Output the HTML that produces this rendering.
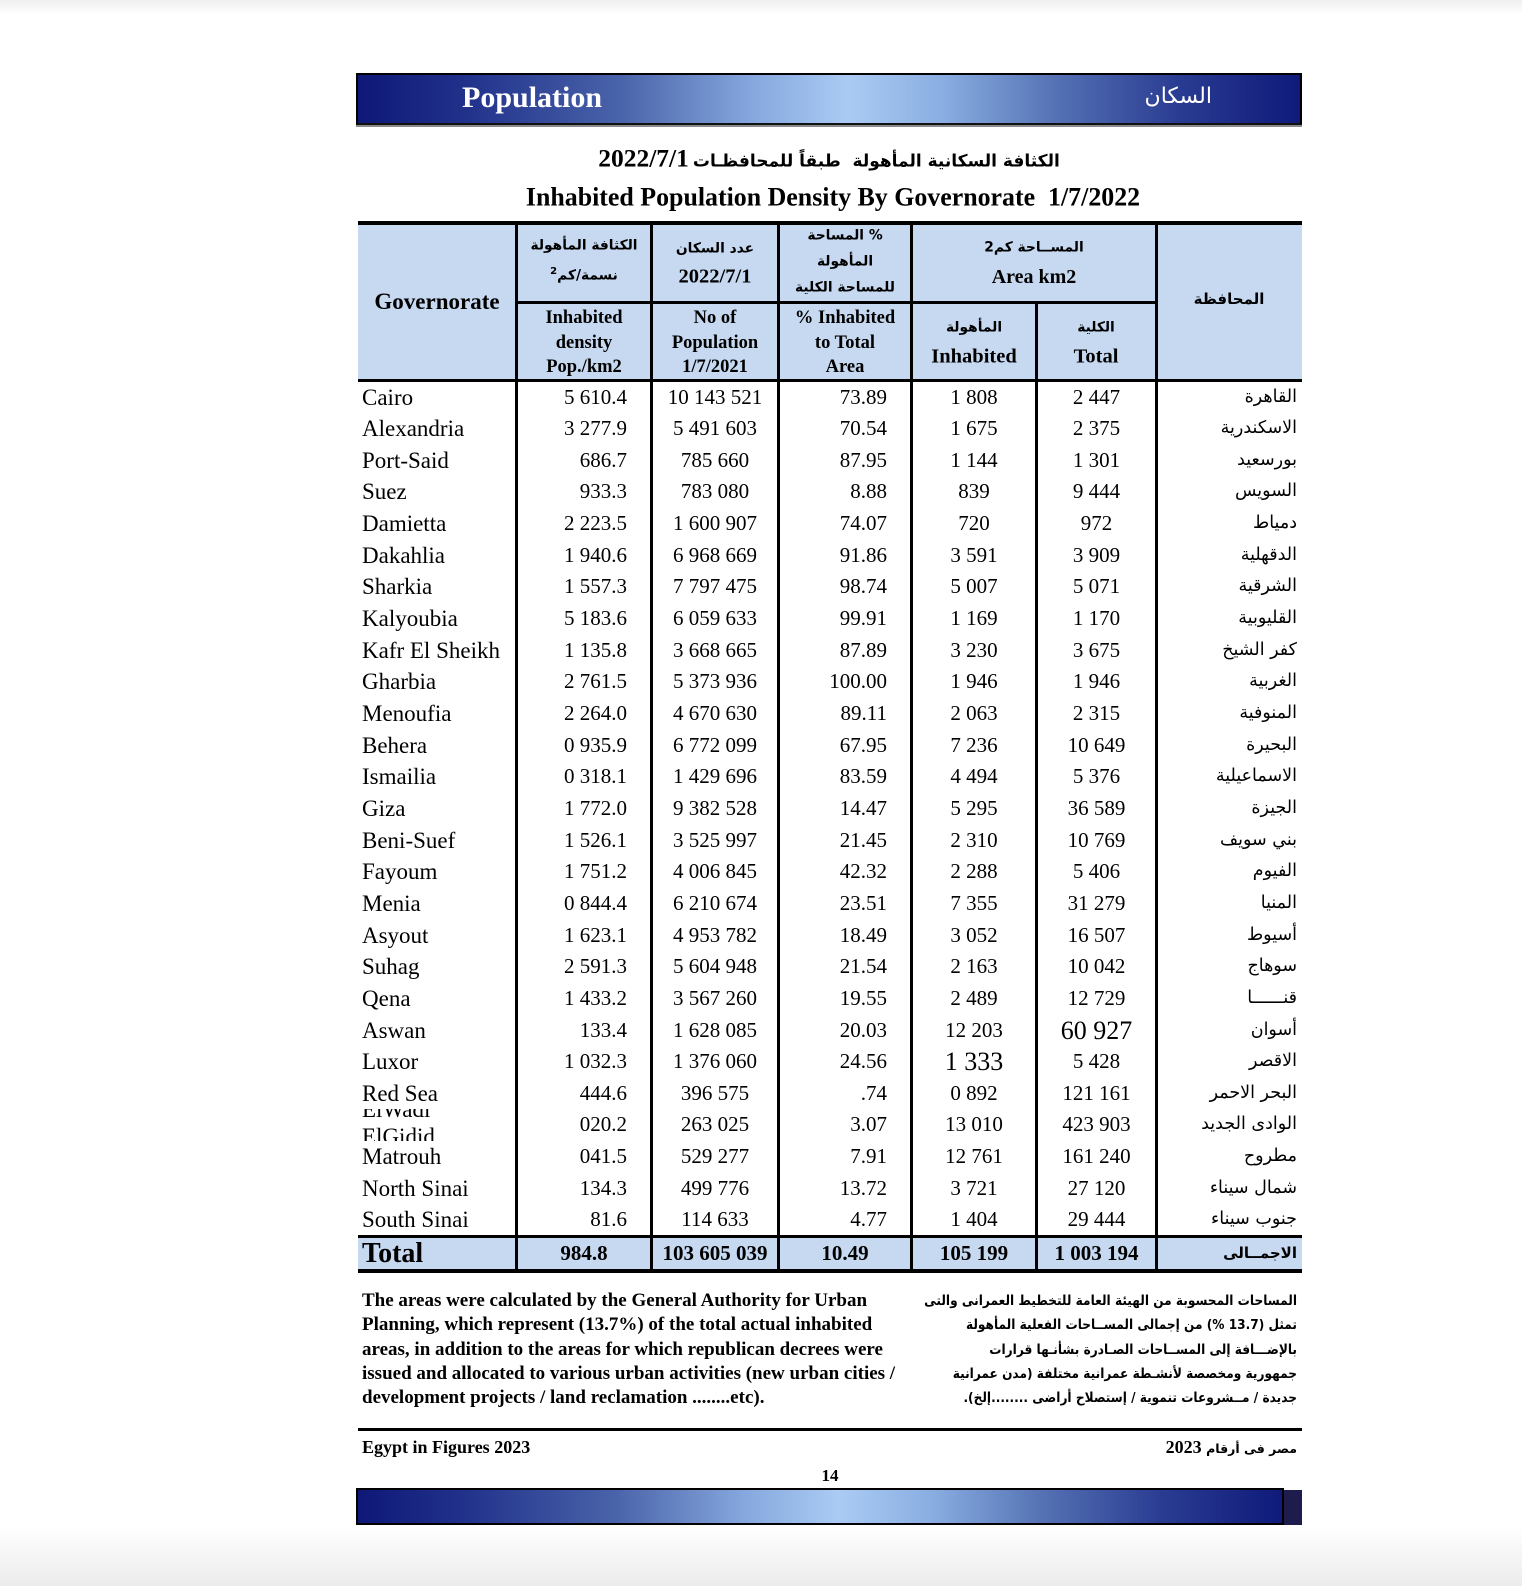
<!DOCTYPE html>
<html><head><meta charset="utf-8">
<style>
*{margin:0;padding:0;box-sizing:border-box}
html,body{width:1522px;height:1586px;background:#fff;overflow:hidden}
body{position:relative;font-family:"Liberation Serif","DejaVu Sans",serif;color:#000}
.abs{position:absolute}
.topfade{left:0;top:0;width:1522px;height:14px;background:linear-gradient(#efefef,#fff)}
.botfade{left:0;top:1525px;width:1522px;height:61px;background:linear-gradient(#fff,#ececec)}
.banner{left:356px;top:73px;width:946px;height:52px;border:2px solid #000;border-bottom:2px solid #111;
 background:linear-gradient(90deg,#0e1877 0%,#22338c 12%,#4a64aa 28%,#86a8de 42%,#aacbf3 52%,#8aaee2 62%,#5572b4 74%,#2a3c92 87%,#0f1a7a 100%);
 box-shadow:0 2px 0 #8a8a8a}
.bt{color:#fff;white-space:nowrap}
.ar{font-family:"DejaVu Sans",sans-serif;direction:rtl}
.t{position:absolute;white-space:nowrap;transform:translate(-50%,-50%);line-height:1.2;text-align:center}
.hfill{left:358px;top:225px;width:944px;height:154px;background:#c6d9f0}
.tfill{left:358px;top:1238px;width:944px;height:31px;background:#c6d9f0}
.hl{position:absolute;background:#000}
.vl{position:absolute;background:#000;width:3px}
.hb{font-weight:bold;font-size:18.5px}
.ha{font-family:"DejaVu Sans",sans-serif;font-weight:bold;font-size:13.8px;direction:rtl}
.row{position:absolute;left:0;width:1522px;height:31.65px;line-height:31.65px;white-space:nowrap}
.row span{position:absolute;top:0;height:31.65px}
.n{left:362px;font-size:23px}
.c1{left:518px;width:109px;text-align:right;font-size:21px}
.c2{left:653px;width:124px;text-align:center;font-size:21px}
.c3{left:780px;width:107px;text-align:right;font-size:21px}
.c4{left:913px;width:122px;text-align:center;font-size:21px}
.c5{left:1038px;width:117px;text-align:center;font-size:21px}
.a{left:1158px;width:139px;text-align:right;font-family:"DejaVu Sans",sans-serif;font-size:17.5px;direction:rtl}
.big{font-size:26px!important}
.tot span{font-weight:bold}
.tot .c1,.tot .c3{text-align:center}
.tot .c1{left:518px;width:132px}
.tot .c3{left:780px;width:130px}
.note{font-weight:bold;font-size:19px;line-height:24.3px;white-space:nowrap}
.notear{font-family:"DejaVu Sans",sans-serif;font-weight:bold;font-size:13.5px;line-height:24.3px;direction:rtl;text-align:right;white-space:nowrap;transform:scaleX(0.9);transform-origin:right top}
</style></head><body>
<div class="abs topfade"></div>
<div class="abs botfade"></div>

<!-- top banner -->
<div class="abs banner"></div>
<div class="abs bt" style="left:462px;top:80px;font-size:30px;font-weight:bold;line-height:36px">Population</div>
<div class="abs bt ar" style="left:1130px;top:81px;width:82px;font-size:22px;line-height:32px;text-align:right">السكان</div>

<!-- titles -->
<div class="t" style="left:829px;top:159px;font-weight:bold"><span class="ar" style="font-size:17px">الكثافة السكانية المأهولة&nbsp; طبقاً للمحافظـات</span> <span style="font-size:25.5px">2022/7/1</span></div>
<div class="t" style="left:833px;top:197px;font-weight:bold;font-size:25.9px">Inhabited Population Density By Governorate&nbsp; 1/7/2022</div>

<!-- table fills -->
<div class="abs hfill"></div>
<div class="abs tfill"></div>

<!-- horizontal lines -->
<div class="hl" style="left:358px;top:221px;width:944px;height:4px"></div>
<div class="hl" style="left:515px;top:301px;width:643px;height:3px"></div>
<div class="hl" style="left:358px;top:379px;width:944px;height:3px"></div>
<div class="hl" style="left:358px;top:1235px;width:944px;height:3px"></div>
<div class="hl" style="left:358px;top:1269px;width:944px;height:4px"></div>

<!-- vertical lines -->
<div class="vl" style="left:515px;top:222px;height:1050px"></div>
<div class="vl" style="left:650px;top:222px;height:1050px"></div>
<div class="vl" style="left:777px;top:222px;height:1050px"></div>
<div class="vl" style="left:910px;top:222px;height:1050px"></div>
<div class="vl" style="left:1035px;top:302px;height:970px"></div>
<div class="vl" style="left:1155px;top:222px;height:1050px"></div>

<!-- header text -->
<div class="t" style="left:437px;top:302px;font-weight:bold;font-size:23px">Governorate</div>
<div class="t ar" style="left:1229px;top:299px;font-weight:bold;font-size:15px">المحافظة</div>

<div class="t ha" style="left:584px;top:246px">الكثافة المأهولة</div>
<div class="t ha" style="left:584px;top:275px">نسمة/كم<sup style="font-size:10px">2</sup></div>
<div class="t hb" style="left:584px;top:318px">Inhabited</div>
<div class="t hb" style="left:584px;top:343px">density</div>
<div class="t hb" style="left:584px;top:367px">Pop./km2</div>

<div class="t ha" style="left:715px;top:249px">عدد السكان</div>
<div class="t" style="left:715px;top:277px;font-weight:bold;font-size:20.5px">2022/7/1</div>
<div class="t hb" style="left:715px;top:318px">No of</div>
<div class="t hb" style="left:715px;top:343px">Population</div>
<div class="t hb" style="left:715px;top:367px">1/7/2021</div>

<div class="t ha" style="left:845px;top:236px">% المساحة</div>
<div class="t ha" style="left:845px;top:262px">المأهولة</div>
<div class="t ha" style="left:845px;top:288px">للمساحة الكلية</div>
<div class="t hb" style="left:845px;top:318px">% Inhabited</div>
<div class="t hb" style="left:845px;top:343px">to Total</div>
<div class="t hb" style="left:845px;top:367px">Area</div>

<div class="t ha" style="left:1034px;top:248px">المســاحة كم2</div>
<div class="t" style="left:1034px;top:277px;font-weight:bold;font-size:20px">Area km2</div>
<div class="t ha" style="left:974px;top:328px">المأهولة</div>
<div class="t" style="left:974px;top:357px;font-weight:bold;font-size:20.5px">Inhabited</div>
<div class="t ha" style="left:1096px;top:328px">الكلية</div>
<div class="t" style="left:1096px;top:357px;font-weight:bold;font-size:20.5px">Total</div>

<!-- data rows -->
<div class="row" style="top:381.5px"><span class="n">Cairo</span><span class="c1">5 610.4</span><span class="c2">10 143 521</span><span class="c3">73.89</span><span class="c4">1 808</span><span class="c5">2 447</span><span class="a">القاهرة</span></div>
<div class="row" style="top:413.15px"><span class="n">Alexandria</span><span class="c1">3 277.9</span><span class="c2">5 491 603</span><span class="c3">70.54</span><span class="c4">1 675</span><span class="c5">2 375</span><span class="a">الاسكندرية</span></div>
<div class="row" style="top:444.8px"><span class="n">Port-Said</span><span class="c1">686.7</span><span class="c2">785 660</span><span class="c3">87.95</span><span class="c4">1 144</span><span class="c5">1 301</span><span class="a">بورسعيد</span></div>
<div class="row" style="top:476.45px"><span class="n">Suez</span><span class="c1">933.3</span><span class="c2">783 080</span><span class="c3">8.88</span><span class="c4">839</span><span class="c5">9 444</span><span class="a">السويس</span></div>
<div class="row" style="top:508.1px"><span class="n">Damietta</span><span class="c1">2 223.5</span><span class="c2">1 600 907</span><span class="c3">74.07</span><span class="c4">720</span><span class="c5">972</span><span class="a">دمياط</span></div>
<div class="row" style="top:539.75px"><span class="n">Dakahlia</span><span class="c1">1 940.6</span><span class="c2">6 968 669</span><span class="c3">91.86</span><span class="c4">3 591</span><span class="c5">3 909</span><span class="a">الدقهلية</span></div>
<div class="row" style="top:571.4px"><span class="n">Sharkia</span><span class="c1">1 557.3</span><span class="c2">7 797 475</span><span class="c3">98.74</span><span class="c4">5 007</span><span class="c5">5 071</span><span class="a">الشرقية</span></div>
<div class="row" style="top:603.05px"><span class="n">Kalyoubia</span><span class="c1">5 183.6</span><span class="c2">6 059 633</span><span class="c3">99.91</span><span class="c4">1 169</span><span class="c5">1 170</span><span class="a">القليوبية</span></div>
<div class="row" style="top:634.7px"><span class="n">Kafr El Sheikh</span><span class="c1">1 135.8</span><span class="c2">3 668 665</span><span class="c3">87.89</span><span class="c4">3 230</span><span class="c5">3 675</span><span class="a">كفر الشيخ</span></div>
<div class="row" style="top:666.35px"><span class="n">Gharbia</span><span class="c1">2 761.5</span><span class="c2">5 373 936</span><span class="c3">100.00</span><span class="c4">1 946</span><span class="c5">1 946</span><span class="a">الغربية</span></div>
<div class="row" style="top:698px"><span class="n">Menoufia</span><span class="c1">2 264.0</span><span class="c2">4 670 630</span><span class="c3">89.11</span><span class="c4">2 063</span><span class="c5">2 315</span><span class="a">المنوفية</span></div>
<div class="row" style="top:729.65px"><span class="n">Behera</span><span class="c1">0 935.9</span><span class="c2">6 772 099</span><span class="c3">67.95</span><span class="c4">7 236</span><span class="c5">10 649</span><span class="a">البحيرة</span></div>
<div class="row" style="top:761.3px"><span class="n">Ismailia</span><span class="c1">0 318.1</span><span class="c2">1 429 696</span><span class="c3">83.59</span><span class="c4">4 494</span><span class="c5">5 376</span><span class="a">الاسماعيلية</span></div>
<div class="row" style="top:792.95px"><span class="n">Giza</span><span class="c1">1 772.0</span><span class="c2">9 382 528</span><span class="c3">14.47</span><span class="c4">5 295</span><span class="c5">36 589</span><span class="a">الجيزة</span></div>
<div class="row" style="top:824.6px"><span class="n">Beni-Suef</span><span class="c1">1 526.1</span><span class="c2">3 525 997</span><span class="c3">21.45</span><span class="c4">2 310</span><span class="c5">10 769</span><span class="a">بني سويف</span></div>
<div class="row" style="top:856.25px"><span class="n">Fayoum</span><span class="c1">1 751.2</span><span class="c2">4 006 845</span><span class="c3">42.32</span><span class="c4">2 288</span><span class="c5">5 406</span><span class="a">الفيوم</span></div>
<div class="row" style="top:887.9px"><span class="n">Menia</span><span class="c1">0 844.4</span><span class="c2">6 210 674</span><span class="c3">23.51</span><span class="c4">7 355</span><span class="c5">31 279</span><span class="a">المنيا</span></div>
<div class="row" style="top:919.55px"><span class="n">Asyout</span><span class="c1">1 623.1</span><span class="c2">4 953 782</span><span class="c3">18.49</span><span class="c4">3 052</span><span class="c5">16 507</span><span class="a">أسيوط</span></div>
<div class="row" style="top:951.2px"><span class="n">Suhag</span><span class="c1">2 591.3</span><span class="c2">5 604 948</span><span class="c3">21.54</span><span class="c4">2 163</span><span class="c5">10 042</span><span class="a">سوهاج</span></div>
<div class="row" style="top:982.85px"><span class="n">Qena</span><span class="c1">1 433.2</span><span class="c2">3 567 260</span><span class="c3">19.55</span><span class="c4">2 489</span><span class="c5">12 729</span><span class="a">قنــــــا</span></div>
<div class="row" style="top:1014.5px"><span class="n">Aswan</span><span class="c1">133.4</span><span class="c2">1 628 085</span><span class="c3">20.03</span><span class="c4">12 203</span><span class="c5 big">60 927</span><span class="a">أسوان</span></div>
<div class="row" style="top:1046.15px"><span class="n">Luxor</span><span class="c1">1 032.3</span><span class="c2">1 376 060</span><span class="c3">24.56</span><span class="c4 big">1 333</span><span class="c5">5 428</span><span class="a">الاقصر</span></div>
<div class="row" style="top:1077.8px"><span class="n">Red Sea</span><span class="c1">444.6</span><span class="c2">396 575</span><span class="c3">.74</span><span class="c4">0 892</span><span class="c5">121 161</span><span class="a">البحر الاحمر</span></div>
<div class="row" style="top:1109.45px"><span class="n" style="width:140px;overflow:hidden"><span style="position:absolute;left:0;top:-13px;line-height:27px;height:auto">ElWadi<br>ElGidid</span></span><span class="c1">020.2</span><span class="c2">263 025</span><span class="c3">3.07</span><span class="c4">13 010</span><span class="c5">423 903</span><span class="a">الوادى الجديد</span></div>
<div class="row" style="top:1141.1px"><span class="n">Matrouh</span><span class="c1">041.5</span><span class="c2">529 277</span><span class="c3">7.91</span><span class="c4">12 761</span><span class="c5">161 240</span><span class="a">مطروح</span></div>
<div class="row" style="top:1172.75px"><span class="n">North Sinai</span><span class="c1">134.3</span><span class="c2">499 776</span><span class="c3">13.72</span><span class="c4">3 721</span><span class="c5">27 120</span><span class="a">شمال سيناء</span></div>
<div class="row" style="top:1204.4px"><span class="n">South Sinai</span><span class="c1">81.6</span><span class="c2">114 633</span><span class="c3">4.77</span><span class="c4">1 404</span><span class="c5">29 444</span><span class="a">جنوب سيناء</span></div>

<!-- total row -->
<div class="row tot" style="top:1238px;height:31px;line-height:31px"><span class="n" style="font-size:28px;height:31px">Total</span><span class="c1">984.8</span><span class="c2">103 605 039</span><span class="c3">10.49</span><span class="c4">105 199</span><span class="c5">1 003 194</span><span class="a" style="font-size:15px">الاجمــالى</span></div>

<!-- notes -->
<div class="abs note" style="left:362px;top:1289px">The areas were calculated by the General Authority for Urban<br>Planning, which represent (13.7%) of the total actual inhabited<br>areas, in addition to the areas for which republican decrees were<br>issued and allocated to various urban activities (new urban cities /<br>development projects / land reclamation ........etc).</div>
<div class="abs notear" style="left:897px;top:1289px;width:400px">المساحات المحسوبة من الهيئة العامة للتخطيط العمرانى والتى<br>تمثل (13.7 %) من إجمالى المســاحات الفعلية المأهولة<br>بالإضـــافة إلى المســاحات الصـادرة بشأنـها قرارات<br>جمهورية ومخصصة لأنشـطة عمرانية مختلفة (مدن عمرانية<br>جديدة / مــشروعات تنموية / إستصلاح أراضى ........إلخ).</div>

<!-- footer -->
<div class="hl" style="left:358px;top:1428px;width:944px;height:3px"></div>
<div class="abs" style="left:362px;top:1436px;font-weight:bold;font-size:18px;line-height:22px;white-space:nowrap">Egypt in Figures 2023</div>
<div class="abs" style="left:1097px;top:1436px;width:200px;text-align:right;font-weight:bold;font-size:18px;line-height:22px;white-space:nowrap;direction:rtl"><span class="ar" style="font-size:12.5px">مصر فى أرقام</span> 2023</div>
<div class="t" style="left:830px;top:1476px;font-weight:bold;font-size:17px">14</div>

<div class="abs" style="left:356px;top:1488px;width:928px;height:37px;border:2px solid #000;background:linear-gradient(90deg,#0e1877 0%,#22338c 12%,#4a64aa 28%,#86a8de 42%,#aacbf3 52%,#8aaee2 62%,#5572b4 74%,#2a3c92 87%,#0f1a7a 100%)"></div>
<div class="abs" style="left:1284px;top:1490px;width:18px;height:35px;background:#1d1c4c"></div>
</body></html>
